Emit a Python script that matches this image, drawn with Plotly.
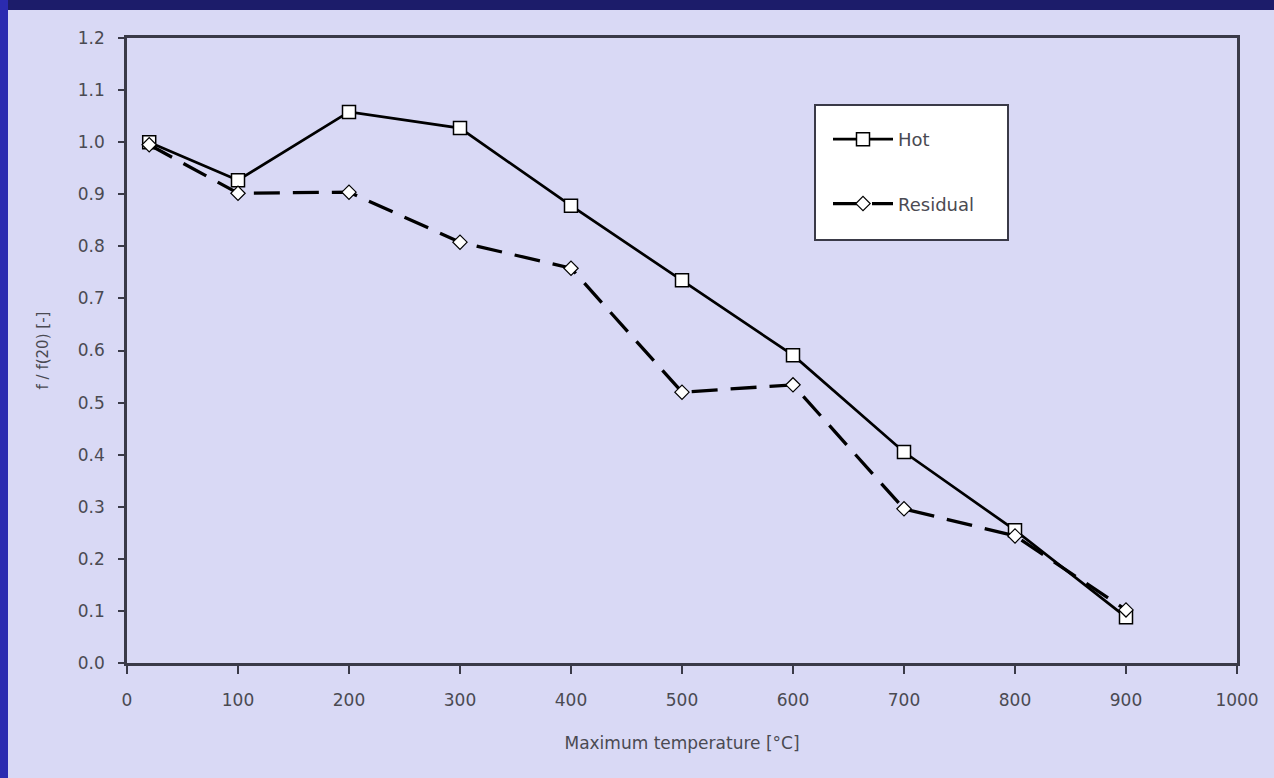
import plotly.graph_objects as go

temps = [20, 100, 200, 300, 400, 500, 600, 700, 800, 900]
hot = [1.0, 0.927, 1.058, 1.027, 0.878, 0.735, 0.591, 0.405, 0.255, 0.088]
residual = [0.995, 0.902, 0.904, 0.808, 0.758, 0.52, 0.534, 0.296, 0.244, 0.102]

x_ticks = [0, 100, 200, 300, 400, 500, 600, 700, 800, 900, 1000]
y_ticks = [0.0, 0.1, 0.2, 0.3, 0.4, 0.5, 0.6, 0.7, 0.8, 0.9, 1.0, 1.1, 1.2]

W, H = 1274, 778
L, R, T, B = 127, 37, 38, 115
pw, ph = W - L - R, H - T - B

bg = "#d9d9f5"
axc = "#3a3a48"
txt = "#4a4a52"
fam = "DejaVu Sans, Verdana, Arial"


def px_x(p):
    return (p - L) / pw


def px_y(p):
    return 1 - (p - T) / ph


fig = go.Figure()
fig.add_trace(go.Scatter(
    x=temps, y=hot, name="Hot", mode="lines+markers", legendgroup="a",
    line=dict(color="black", width=2.7),
    marker=dict(symbol="square", size=13, color="white", line=dict(color="black", width=1.5)),
))
fig.add_trace(go.Scatter(
    x=temps, y=residual, name="Residual", mode="lines+markers", legendgroup="b",
    line=dict(color="black", width=3.3, dash="26px,13px"),
    marker=dict(symbol="diamond", size=11, color="white", line=dict(color="black", width=1.2)),
))

axis_common = dict(
    showgrid=False, zeroline=False, showline=True, linecolor=axc, linewidth=2.5,
    mirror=True, ticks="outside", tickwidth=2, tickcolor=axc,
    tickfont=dict(family=fam, size=17, color=txt),
)
fig.update_xaxes(
    range=[0, 1000], tickvals=x_ticks, ticktext=[str(v) for v in x_ticks],
    ticklen=8, ticklabelstandoff=12,
    title=dict(text="Maximum temperature [°C]", standoff=28,
               font=dict(family=fam, size=17, color=txt)),
    **axis_common,
)
fig.update_yaxes(
    range=[0, 1.2], tickvals=y_ticks, ticktext=[f"{v:.1f}" for v in y_ticks],
    ticklen=6, ticklabelstandoff=10,
    title=dict(text="f / f(20) [-]", standoff=26,
               font=dict(family=fam, size=15, color=txt)),
    **axis_common,
)

# decorative slide borders (navy top band, blue left band)
fig.add_shape(type="rect", xref="paper", yref="paper",
              x0=px_x(0), x1=px_x(W), y0=px_y(10), y1=px_y(0),
              fillcolor="#1c1c6a", line_width=0, layer="below")
fig.add_shape(type="rect", xref="paper", yref="paper",
              x0=px_x(0), x1=px_x(8), y0=px_y(H), y1=px_y(0),
              fillcolor="#2b2bb0", line_width=0, layer="below")
# legend frame
fig.add_shape(type="rect", xref="paper", yref="paper",
              x0=px_x(815), x1=px_x(1008), y0=px_y(240), y1=px_y(105),
              fillcolor="white", line=dict(color=axc, width=2), layer="below")

fig.update_layout(
    width=W, height=H, margin=dict(l=L, r=R, t=T, b=B),
    paper_bgcolor=bg, plot_bgcolor="rgba(0,0,0,0)",
    font=dict(family=fam, color=txt),
    legend=dict(
        x=px_x(828), y=px_y(121), xanchor="left", yanchor="top",
        bgcolor="rgba(0,0,0,0)", borderwidth=0,
        font=dict(family=fam, size=18, color=txt),
        itemwidth=60, tracegroupgap=38,
    ),
)

fig.write_html("out.html", config={"displayModeBar": False},
               post_script="document.body.style.margin='0';")
